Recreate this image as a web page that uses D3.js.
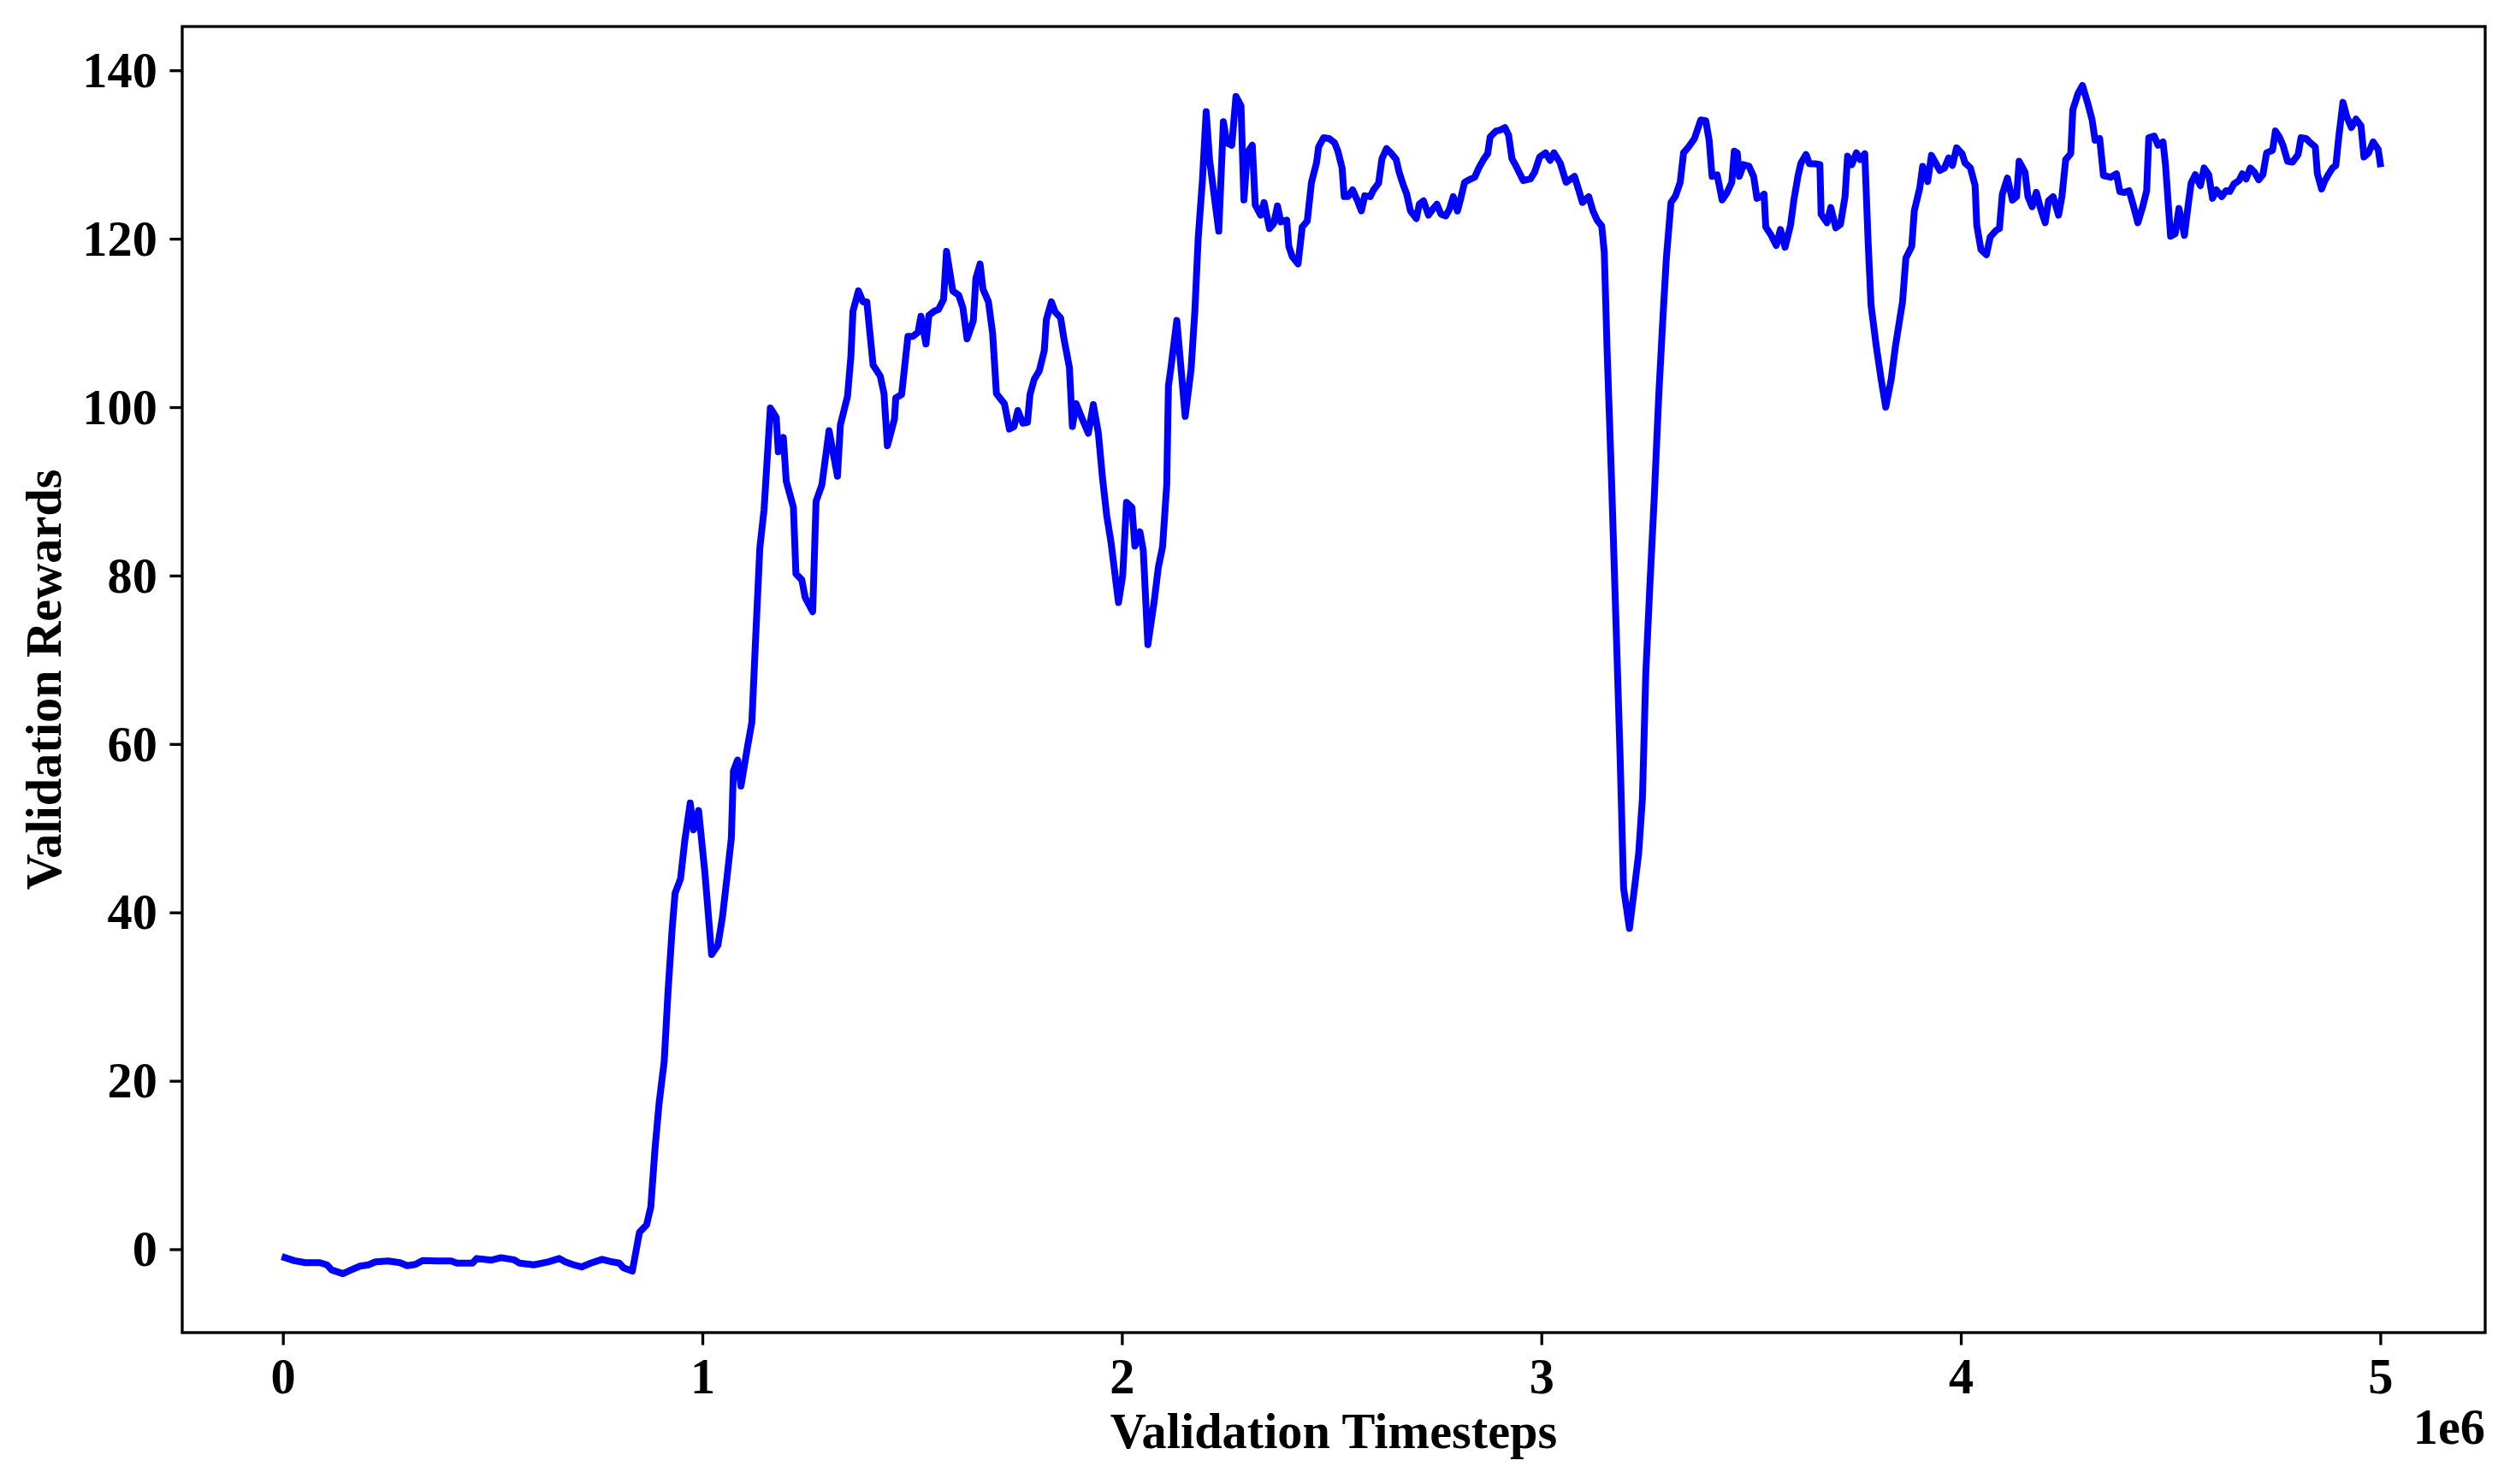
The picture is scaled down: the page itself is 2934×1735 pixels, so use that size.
<!DOCTYPE html>
<html lang="en">
<head>
<meta charset="UTF-8">
<title>Validation Rewards</title>
<script src="https://d3js.org/d3.v7.min.js"></script>
<style>
  body { margin: 0; background: #fff; }
  svg text { font-family: "Liberation Serif", "Times New Roman", serif; font-weight: bold; fill: #000; }
</style>
</head>
<body>
<svg id="chart" width="2934" height="1735"></svg>
<script>
// timesteps in millions (axis shows the 1e6 offset)
const timestepsM = [
  0.005,0.027,0.054,0.088,0.105,0.116,0.143,0.163,0.184,0.204,0.221,0.251,0.279,0.296,0.316,0.333,0.367,0.401,0.415,0.452,0.462,0.496,0.520,0.551,0.564,0.598,0.632,0.659,0.673,0.693,0.712,0.734,0.761,0.785,0.802,0.812,0.833,
  0.850,0.867,0.877,0.887,0.897,0.909,0.918,0.928,0.935,0.948,
  0.958,0.971,0.979,0.991,1.006,1.022,1.037,1.048,1.059,1.069,
  1.074,1.084,1.092,1.107,1.118,1.127,1.137,1.147,1.162,1.176,
  1.181,1.193,1.200,1.217,1.223,1.237,1.245,1.263,
  1.271,1.285,1.302,1.322,1.329,1.346,1.354,1.359,1.372,1.383,
  1.392,1.407,1.424,1.433,1.441,1.458,1.461,1.475,1.490,1.502,
  1.514,1.521,1.533,1.540,1.553,1.563,1.575,1.582,1.597,1.611,
  1.621,1.631,1.646,1.652,1.662,1.669,1.682,1.692,1.701,1.720,
  1.732,1.743,1.752,1.764,1.775,1.781,1.791,1.803,1.815,1.820,
  1.832,1.841,1.854,1.862,1.875,1.882,1.891,1.903,1.920,1.932,
  1.944,1.954,1.964,1.974,1.992,2.002,2.011,2.024,2.031,2.043,
  2.051,2.062,2.077,2.087,2.097,2.107,2.111,2.117,2.131,
  2.151,2.165,2.174,2.182,2.192,2.201,2.209,2.231,2.242,2.250,
  2.262,2.272,2.284,2.291,2.299,2.311,2.318,2.331,2.339,2.352,
  2.362,2.371,2.379,2.393,2.398,2.406,2.420,2.430,2.442,2.452,
  2.464,2.469,2.481,2.494,2.507,2.515,2.525,2.530,2.539,2.550,
  2.561,2.571,2.579,2.592,2.600,2.612,2.620,2.631,2.643,2.654,
  2.661,2.670,2.679,2.688,2.702,2.709,2.719,2.731,2.741,2.751,
  2.761,2.772,2.781,2.790,2.800,2.807,2.817,2.824,2.841,2.851,
  2.862,2.872,2.878,2.892,2.902,2.913,2.922,
  2.930,2.940,2.957,2.974,2.984,2.996,3.010,3.021,3.030,3.045,
  3.059,3.079,3.089,3.098,3.113,3.123,3.133,3.144,3.150,3.157,
  3.167,3.178,3.188,3.196,3.210,3.222,3.232,3.241,3.249,3.259,
  3.269,3.280,3.290,3.298,3.309,3.320,3.331,3.339,3.351,3.365,
  3.380,3.392,3.400,3.407,3.419,3.431,3.443,3.454,3.460,3.467,
  3.472,3.482,3.495,3.506,
  3.514,3.524,3.531,3.535,3.548,3.560,3.570,3.581,3.594,3.602,
  3.612,3.619,3.631,3.639,3.653,3.664,3.667,3.681,3.690,3.702,
  3.713,3.724,3.730,3.740,3.751,3.760,3.771,3.779,3.786,3.798,
  3.810,3.821,3.834,3.844,3.861,3.869,3.883,3.889,3.902,3.909,
  3.921,3.930,3.941,3.950,3.961,3.971,3.980,3.990,4.003,4.010,
  4.023,4.034,4.038,4.048,4.061,4.070,4.084,4.092,4.099,4.111,
  4.123,4.133,4.139,4.153,4.160,4.170,4.180,4.190,4.201,4.209,
  4.220,4.233,4.241,4.250,4.262,4.267,4.279,4.290,4.303,
  4.313,4.320,4.331,4.340,4.357,4.371,4.379,4.390,4.401,4.412,
  4.422,4.433,4.443,4.448,4.461,4.470,4.482,4.488,4.500,4.511,
  4.520,4.533,4.542,4.549,4.559,4.571,4.580,4.591,4.600,4.609,
  4.622,4.632,4.641,4.651,4.663,4.671,4.680,4.690,4.700,4.710,
  4.720,4.729,4.743,4.750,4.759,4.768,4.779,4.791,4.804,4.811,
  4.823,4.833,4.845,4.850,4.860,4.867,4.877,4.886,4.894,4.901,
  4.911,4.920,4.931,4.942,4.954,4.961,4.972,4.983,4.995,5.000
];

const rewards = [
  -1.0,-1.35,-1.6,-1.6,-1.85,-2.45,-2.9,-2.45,-2.0,-1.85,-1.5,-1.4,-1.6,-1.95,-1.8,-1.35,-1.4,-1.4,-1.65,-1.65,-1.1,-1.3,-1.0,-1.25,-1.65,-1.85,-1.5,-1.1,-1.5,-1.85,-2.1,-1.65,-1.2,-1.5,-1.65,-2.2,-2.6,
  2.0,2.9,5.0,11.9,17.4,22.3,30.5,38.1,42.3,44.0,
  48.5,53.0,49.8,52.1,44.7,35.0,36.1,39.5,44.3,48.8,
  56.8,58.1,55.0,59.5,62.6,72.6,83.3,87.8,99.9,98.8,
  94.7,96.4,91.2,88.1,80.2,79.5,77.4,75.7,
  88.8,90.8,97.2,91.8,97.9,101.3,106.0,111.4,113.8,112.5,
  112.5,105.0,103.7,101.6,95.4,98.6,101.1,101.5,108.4,108.4,
  108.9,110.8,107.5,110.9,111.4,111.6,112.8,118.5,113.8,113.3,
  111.8,108.1,110.3,115.3,117.0,114.0,112.5,108.7,101.6,100.4,
  97.4,97.7,99.6,98.1,98.2,101.5,103.3,104.3,106.7,110.4,
  112.5,111.3,110.6,108.1,104.7,97.7,100.4,98.9,96.9,100.3,
  96.9,91.5,87.1,84.0,76.8,80.0,88.7,88.1,83.5,85.2,
  83.0,71.8,76.9,81.0,83.4,90.8,102.5,104.7,110.3,
  98.9,104.5,111.4,120.1,126.9,135.1,129.4,120.9,133.9,131.4,
  131.1,136.9,135.8,124.6,130.2,131.1,124.0,122.8,124.3,121.2,
  121.8,123.9,122.0,122.2,119.1,117.9,117.0,121.4,122.1,126.7,
  129.0,130.9,132.0,131.9,131.4,130.4,128.4,125.0,125.0,125.8,
  124.6,123.3,125.1,125.0,125.8,126.6,129.5,130.7,130.1,129.4,
  127.9,126.5,125.3,123.3,122.4,124.1,124.5,122.8,123.5,124.1,
  122.9,122.7,123.5,125.0,123.3,124.6,126.7,126.9,127.3,128.4,
  129.4,130.1,132.1,132.8,132.9,133.2,132.3,
  129.5,128.6,126.9,127.1,127.9,129.7,130.2,129.3,130.2,129.0,
  126.7,127.4,125.8,124.3,125.0,123.3,122.2,121.5,118.4,106.4,
  91.9,74.3,58.1,42.9,38.1,42.9,47.0,53.6,68.4,79.1,
  89.1,101.5,110.8,117.7,124.3,125.1,126.7,130.2,130.9,131.9,
  134.1,134.0,131.7,127.4,127.6,124.6,125.5,126.7,130.4,130.2,
  127.4,128.8,128.6,127.4,
  124.8,125.0,125.3,121.4,120.4,119.2,121.1,119.0,121.6,124.6,
  127.5,129.0,130.0,128.9,128.9,128.8,122.9,121.9,123.7,121.3,
  121.7,125.0,129.8,128.8,130.2,129.4,130.1,119.6,112.1,107.4,
  103.3,100.0,103.3,107.2,112.5,117.7,119.1,123.3,126.0,128.6,
  126.8,129.9,128.9,128.1,128.4,129.6,128.7,130.8,130.1,129.0,
  128.4,126.3,121.6,118.7,118.1,120.2,121.0,121.2,125.3,127.2,
  124.6,125.0,129.2,127.9,125.0,123.8,125.5,123.6,121.9,124.5,
  125.0,122.8,125.0,129.4,130.1,135.3,137.2,138.2,136.0,
  134.1,131.7,131.9,127.5,127.3,127.7,125.6,125.5,125.7,123.8,
  121.9,123.7,125.7,132.0,132.2,131.1,131.5,128.7,120.3,120.6,
  123.6,120.4,124.0,126.6,127.6,126.3,128.4,127.6,124.8,125.8,
  125.0,125.7,125.6,126.5,126.9,127.7,127.1,128.4,127.9,127.0,
  127.6,130.2,130.5,132.8,132.1,131.1,129.2,129.1,130.0,132.0,
  131.9,131.4,130.9,127.7,125.9,126.8,127.7,128.4,128.7,132.1,
  136.2,134.5,133.2,134.2,133.4,129.7,130.2,131.5,130.6,128.9
];

const xTicks = [0, 1, 2, 3, 4, 5];
const yTicks = [0, 20, 40, 60, 80, 100, 120, 140];
const xLabel = "Validation Timesteps";
const yLabel = "Validation Rewards";
const xOffsetText = "1e6";

if (timestepsM.length !== rewards.length) {
    console.error("length mismatch", timestepsM.length, rewards.length);
}

const fontSize = 58.33;   // 14pt at 300 dpi
const lw = 3.33;          // 0.8pt spines / ticks
const tickLen = 14.6;

const plot = {left: 213, right: 2905, top: 31, bottom: 1558};

const x = d3.scaleLinear().domain([-0.24, 5.25]).range([plot.left, plot.right]);
const y = d3.scaleLinear().domain([-9.9, 145.2]).range([plot.bottom, plot.top]);

const svg = d3.select("#chart");
svg.append("rect").attr("width", 2934).attr("height", 1735).attr("fill", "#fff");

svg.append("clipPath").attr("id", "clip")
    .append("rect")
    .attr("x", plot.left).attr("y", plot.top)
    .attr("width", plot.right - plot.left).attr("height", plot.bottom - plot.top);

const data = d3.zip(timestepsM, rewards);

const line = d3.line()
    .x(d => x(d[0]))
    .y(d => y(d[1]));

svg.append("path")
    .datum(data)
    .attr("clip-path", "url(#clip)")
    .attr("fill", "none")
    .attr("stroke", "#0000ff")
    .attr("stroke-width", 8)
    .attr("stroke-linejoin", "round")
    .attr("stroke-linecap", "square")
    .attr("d", line);

// x axis
const gx = svg.append("g")
    .attr("transform", `translate(0,${plot.bottom})`)
    .call(d3.axisBottom(x).tickValues(xTicks).tickSize(tickLen).tickPadding(tickLen).tickFormat(d3.format("d")));
gx.select(".domain").remove();
gx.selectAll(".tick line").attr("stroke", "#000").attr("stroke-width", lw);
gx.selectAll(".tick text").attr("dy", "0.71em").style("font-size", fontSize + "px");

// y axis
const gy = svg.append("g")
    .attr("transform", `translate(${plot.left},0)`)
    .call(d3.axisLeft(y).tickValues(yTicks).tickSize(tickLen).tickPadding(tickLen).tickFormat(d3.format("d")));
gy.select(".domain").remove();
gy.selectAll(".tick line").attr("stroke", "#000").attr("stroke-width", lw);
gy.selectAll(".tick text").attr("dy", "0.33em").style("font-size", fontSize + "px");

// frame
svg.append("rect")
    .attr("x", plot.left).attr("y", plot.top)
    .attr("width", plot.right - plot.left).attr("height", plot.bottom - plot.top)
    .attr("fill", "none").attr("stroke", "#000").attr("stroke-width", lw);

// labels
svg.append("text")
    .attr("x", (plot.left + plot.right) / 2).attr("y", 1693)
    .attr("text-anchor", "middle")
    .style("font-size", fontSize + "px")
    .text(xLabel);

svg.append("text")
    .attr("transform", `translate(71,${(plot.top + plot.bottom) / 2}) rotate(-90)`)
    .attr("text-anchor", "middle")
    .style("font-size", fontSize + "px")
    .text(yLabel);

svg.append("text")
    .attr("x", plot.right).attr("y", 1688)
    .attr("text-anchor", "end")
    .style("font-size", fontSize + "px")
    .text(xOffsetText);
</script>
</body>
</html>
